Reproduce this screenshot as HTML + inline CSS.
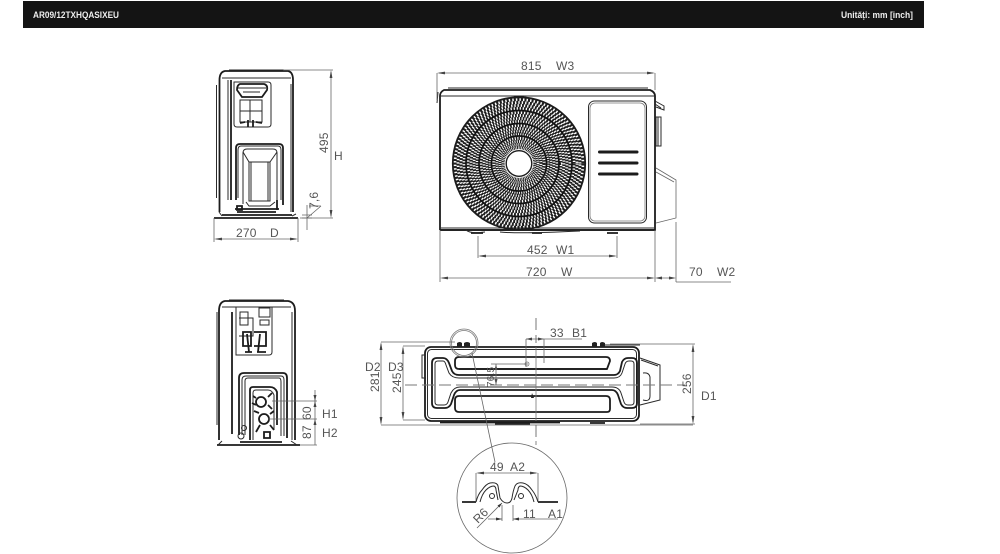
<!DOCTYPE html>
<html><head><meta charset="utf-8"><style>
html,body{margin:0;padding:0;background:#fff;width:1000px;height:554px;overflow:hidden}
svg{display:block}
text{font-family:"Liberation Sans",sans-serif;font-size:12px;fill:#555;letter-spacing:.2px}
.h{font-size:9px;font-weight:bold;fill:#eee;letter-spacing:0}
.d{fill:none;stroke:#666;stroke-width:.8}
.a{fill:none;stroke:#666;stroke-width:.8;marker-start:url(#m);marker-end:url(#m)}
.k{fill:none;stroke:#2a2a2a;stroke-width:1}
.t{fill:none;stroke:#1c1c1c;stroke-width:1.8}
.g{fill:none;stroke:#777;stroke-width:.8}
.c{fill:none;stroke:#777;stroke-width:1;stroke-dasharray:12 5}
.b{fill:none;stroke:#1e1e1e;stroke-width:3.3}
.r{fill:none;stroke:#111;stroke-width:1.7}
</style></head><body>
<svg width="1000" height="554" viewBox="0 0 1000 554" xmlns="http://www.w3.org/2000/svg">
<defs><marker id="m" viewBox="0 0 8 4" refX="6" refY="2" markerWidth="8" markerHeight="4" markerUnits="userSpaceOnUse" orient="auto-start-reverse"><path d="M8 2L0 0.6V3.4Z" fill="#444"/></marker></defs>

<rect x="23" y="1" width="901" height="27" fill="#141414"/>
<text class="h" x="33" y="18" textLength="86" lengthAdjust="spacingAndGlyphs">AR09/12TXHQASIXEU</text>
<text class="h" x="841" y="18" textLength="72" lengthAdjust="spacingAndGlyphs">Unități: mm [inch]</text>

<!-- Side view top -->
<g>
<path class="t" d="M219.500 212V80Q219.500 72 225 71H288Q293 72 293 80V212"/>
<path class="k" d="M222 78H291M229 70H284"/>
<path class="k" d="M216.500 85V198" stroke-width="1.200"/>
<path class="t" d="M231 80V200" stroke-width="2"/>
<path class="k" d="M228 80V200M228 78H234"/>
<path class="k" d="M234 82H268Q271 82 271 85V124Q271 127 268 127H237Q234 127 234 124Z"/>
<path class="t" d="M237 90Q237 85 240 84H264Q268 85 267 90L262 97H242Z" stroke-width="1.400"/>
<path class="k" d="M240 100H262V122H240ZM243 92H260M240 111H262M250 100V122M238 88H266"/>
<path class="t" d="M240 123L245 122M256 122L262 123M248 120V127M253 120V127" stroke-width="1.600"/>
<path class="t" d="M236 200V148Q236 144 240 144H279Q283 144 283 148V205" stroke-width="1.600"/>
<path class="k" d="M238 198V150Q238 146 241 146H278Q281 146 281 150V200"/>
<path class="k" d="M243 204V153Q243 149 247 149H273Q277 149 277 153V200"/>
<path class="k" d="M249 162H270V201H249ZM243 152L249 162M277 152L270 162M246 202L249 206H270L275 202"/>
<path class="k" d="M251 162V201M268 162V201"/>
<path class="t" d="M235 209H279M237 212H276" stroke-width="2"/>
<path class="t" d="M237 206H242V210H237ZM277 200V210" stroke-width="1.400"/>
<path class="k" d="M291 84V212" stroke-width="1.400"/>
<path class="t" d="M214 218H298" stroke-width="1.200"/>
<path class="t" d="M222 215H292" stroke-width="2.500"/>
<path class="k" d="M219 212L222 216M292 216L296 214"/>
</g>
<path class="d" d="M283 70H333M300 218H333M214 218V242M298 218V242"/>
<path class="a" d="M331 72V216"/>
<path class="a" d="M216 239H296"/>
<text transform="translate(328 153) rotate(-90)">495</text>
<text x="334" y="160">H</text>
<text x="236" y="237">270</text>
<text x="270" y="237">D</text>
<path class="d" d="M307 205V230M302 215H312M302 218H312M309 206H321M321 206L307 218"/>
<text transform="translate(318 209) rotate(-90)">7,6</text>

<!-- Front view -->
<g>
<path class="t" d="M440 230V96Q440 92 444 90H650Q655 92 655 96V230H440"/>
<path class="k" d="M448 88H648M440 96H655M441 228H654M438 92L437 103"/>
<path class="t" d="M440 230H655" stroke-width="2"/>
<rect x="588.500" y="101" width="58" height="122" rx="6" class="k" stroke-width="1.200"/>
<rect x="590" y="103" width="55" height="118" rx="5" class="g"/>
<path d="M599.500 152H637M599.500 163H637M599.500 174H637" stroke="#1c1c1c" stroke-width="3" stroke-linecap="round" fill="none"/>
<path class="t" d="M471 233H483M607 233H618M532 233H542" stroke-width="3"/>
<path class="k" d="M466 230Q470 234 485 232M500 232Q519 234 580 231"/>
<path class="k" d="M655 101L664 106V110L656 107M655 104L661 108"/>
<path class="k" d="M656 117H661V146H656ZM658 117V146" stroke-width="1.200"/>
<path class="d" d="M656 168L676 180V218L656 223M656 172L674 182"/>
<!-- fan -->
<g>
<circle cx="519" cy="163.500" r="66.200" class="t" stroke-width="1.700"/>
<circle cx="519" cy="163.500" r="64" class="b" pathLength="360" stroke-dasharray="1.9 1.3"/>
<circle cx="519" cy="163.500" r="61" class="b" pathLength="360" stroke-dasharray="1.9 1.3" stroke-dashoffset="1"/>
<circle cx="519" cy="163.500" r="58" class="b" pathLength="360" stroke-dasharray="1.9 1.3" stroke-dashoffset="2"/>
<circle cx="519" cy="163.500" r="55" class="b" pathLength="360" stroke-dasharray="1.9 1.3" stroke-dashoffset="3"/>
<circle cx="519" cy="163.500" r="53" class="r"/>
<circle cx="519" cy="163.500" r="51" class="b" pathLength="360" stroke-dasharray="2.1 1.5"/>
<circle cx="519" cy="163.500" r="48" class="b" pathLength="360" stroke-dasharray="2.1 1.5" stroke-dashoffset="1.2"/>
<circle cx="519" cy="163.500" r="45" class="b" pathLength="360" stroke-dasharray="2.1 1.5" stroke-dashoffset="2.4"/>
<circle cx="519" cy="163.500" r="42" class="b" pathLength="360" stroke-dasharray="2.1 1.5" stroke-dashoffset="3.6"/>
<circle cx="519" cy="163.500" r="40" class="r"/>
<circle cx="519" cy="163.500" r="38" class="b" pathLength="360" stroke-dasharray="2.6 1.9"/>
<circle cx="519" cy="163.500" r="35" class="b" pathLength="360" stroke-dasharray="2.6 1.9" stroke-dashoffset="1.5"/>
<circle cx="519" cy="163.500" r="32" class="b" pathLength="360" stroke-dasharray="2.6 1.9" stroke-dashoffset="3"/>
<circle cx="519" cy="163.500" r="29.500" class="b" pathLength="360" stroke-dasharray="2.6 1.9" stroke-dashoffset="4.5"/>
<circle cx="519" cy="163.500" r="27.500" class="r"/>
<circle cx="519" cy="163.500" r="25" class="b" pathLength="360" stroke-dasharray="3.5 2.5"/>
<circle cx="519" cy="163.500" r="22" class="b" pathLength="360" stroke-dasharray="3.5 2.5" stroke-dashoffset="2"/>
<circle cx="519" cy="163.500" r="19" class="b" pathLength="360" stroke-dasharray="3.5 2.5" stroke-dashoffset="4"/>
<circle cx="519" cy="163.500" r="16" class="b" pathLength="360" stroke-dasharray="3.5 2.5" stroke-dashoffset="6"/>
<circle cx="519" cy="163.500" r="12.800" fill="#fff" stroke="#1c1c1c" stroke-width="1.400"/>
<path d="M514 96.500H524" stroke="#1c1c1c" stroke-width="2"/>
</g>
</g>
<path class="d" d="M437 73V100M655 73V90M440 230V282M655 230V282M676 222V282M478 236V258M617 236V258M676 282H731"/>
<path class="a" d="M439 73H653"/>
<path class="a" d="M480 256H615"/>
<path class="a" d="M442 278H653"/>
<path class="d" d="M657 278H674"/>
<path d="M655 278l7-1.500v3zM676 278l-7-1.500v3z" fill="#444"/>
<text x="521" y="70">815</text><text x="556" y="70">W3</text>
<text x="527" y="254">452</text><text x="556" y="254">W1</text>
<text x="526" y="276">720</text><text x="561" y="276">W</text>
<text x="689" y="276">70</text><text x="717" y="276">W2</text>

<!-- Side view bottom -->
<g>
<path class="t" d="M219 440V311Q219 302 225 301H288Q295 302 295 311V440"/>
<path class="k" d="M222 307H291M229 300H284M292 312V440"/>
<path class="t" d="M232 312V434" stroke-width="2.400"/>
<path class="k" d="M217 312V425M236 307V355H269Q272 355 272 352V307"/>
<path class="k" d="M240 312H248V325H240ZM259 308H270V317H259ZM260 320H269V325H260ZM239 318H253V336H239"/>
<path class="t" d="M243 332H251V346H243ZM254 332H266V346H254M247 334L249 352M260 334L258 352M245 352H252M257 352H266" stroke-width="1.200"/>
<path class="t" d="M239 435V378Q239 373 244 373H283Q287 373 287 378V438" stroke-width="1.400"/>
<path class="k" d="M242 435V380Q242 376 246 376H281Q284 376 284 380V436M245 435V381Q245 378 248 378H279Q281 378 281 382V436"/>
<path class="t" d="M250 440V390Q250 387 253 387H270Q275 387 277 392V425" stroke-width="2"/>
<path class="k" d="M253 440V393Q253 390 256 390H268Q272 390 274 395V430"/>
<circle cx="261" cy="402" r="5" class="t"/>
<circle cx="264" cy="419" r="5" class="t"/>
<path class="t" d="M256 398L253 396M268 397L272 393M256 405L252 403M268 405L272 409M259 413L254 411M270 414L274 411M260 425L256 432M270 425L274 430M264 432H270V438H264Z" stroke-width="1.500"/>
<circle cx="244" cy="428" r="2.500" class="k"/><circle cx="241" cy="436" r="3" class="k"/>
<path class="t" d="M217 445H300" stroke-width="1.200"/>
<path class="t" d="M240 442H282" stroke-width="2.400"/>
<path class="k" d="M222 441L218 445M291 441L297 445"/>
</g>
<path class="d" d="M272 401H317M268 419H317M300 445H317"/>
<path class="d" d="M315 390V445"/>
<path d="M315 401l-1.500-6h3zM315 419l-1.500 6h3zM315 401l-1.500 6h3z" fill="#444"/>
<text transform="translate(311 420) rotate(-90)">60</text>
<text transform="translate(311 439) rotate(-90)">87</text>
<text x="322" y="418">H1</text><text x="322" y="437">H2</text>

<!-- Top view -->
<g>
<rect x="425" y="347" width="214" height="74" rx="6" class="t" stroke-width="1.500"/>
<rect x="427.500" y="349.500" width="209" height="69" rx="4" class="k" stroke-width=".8"/>
<path class="t" stroke-width="1.300" d="M432 363Q432 358 437 358H443Q447 358 449 363L452 371Q454 375 459 375H614Q618 375 620 371L622 362Q624 358 628 358H632Q637 358 637 363V403Q637 408 632 408H627Q623 408 621 404L618 395Q616 390 612 390H460Q456 390 454 395L451 404Q449 408 445 408H437Q432 408 432 403Z"/>
<path class="k" stroke-width=".9" d="M435 364Q435 361 438 361H443Q445 361 446 365L449 373Q452 378 459 378H614Q620 378 622 373L625 364Q626 361 629 361H631Q634 361 634 364V402Q634 405 631 405H628Q625 405 624 402L621 393Q619 387 612 387H460Q454 387 451 393L448 402Q447 405 444 405H438Q435 405 435 402Z"/>
<path class="t" stroke-width="1.300" d="M455 361Q455 357 459 357H606Q610 357 610 361L607 369H459Q455 369 455 365Z"/>
<path class="t" stroke-width="1.300" d="M455 400Q455 396 459 396H606Q610 396 610 400V409Q610 412 607 412H459Q455 412 455 408Z"/>
<path class="t" d="M459 369H607" stroke-width="2"/>
<path class="k" d="M640 358L660 365V400L640 405M641 360L658 366M643 373Q649 372 650 377V396Q650 402 643 400"/>
<path class="k" d="M425 355H422V378H426"/>
<path d="M457 347V343Q460 341 462 343V347ZM464 347V343Q467 341 470 343V347ZM592 347V343Q595 341 597 343V347ZM600 347V343Q602 341 605 343V347Z" fill="#222"/>
<path class="t" d="M440 422.500H560" stroke-width="1.500"/>
<path class="t" d="M495 424H530M590 423H605" stroke-width="2"/>
<path class="k" d="M605 345H640"/>
<circle cx="464" cy="343" r="14" class="g"/><circle cx="464" cy="343" r="12.500" class="g"/>
</g>
<path class="c" d="M405 385H685"/>
<path class="c" d="M536 318V343M536 425V440"/>
<path class="g" d="M536 347V421"/>
<path class="d" d="M381 342H455M381 425H693M403 346H425M403 420H425M610 344H695M640 424H695"/>
<path class="a" d="M381 344V423"/>
<path class="a" d="M403 348V418"/>
<path class="a" d="M693 346V422"/>
<text x="365" y="371">D2</text><text x="388" y="371">D3</text>
<text transform="translate(379 392) rotate(-90)">281</text>
<text transform="translate(401 393) rotate(-90)">245</text>
<text transform="translate(691 394) rotate(-90)">256</text>
<text x="701" y="400">D1</text>
<path class="d" d="M526 339V367M544 339V363M526 339H582M491 364H528"/>
<path d="M526 339l6-1.500v3zM544 339l-6-1.500v3zM496 364l-1.500 6h3zM496 385l-1.500-6h3z" fill="#444"/>
<path class="d" d="M496 364V385"/>
<circle cx="527" cy="364" r="2" class="g"/>
<path d="M532 393l2 5h-3z" fill="#222"/>
<text x="550" y="337">33</text><text x="572" y="337">B1</text>
<text transform="translate(494 387) rotate(-90)" style="font-size:10px">76.5</text>
<path class="d" d="M472 353L495 462"/>

<!-- Detail circle -->
<circle cx="512" cy="498" r="55" class="d"/>
<path class="t" stroke-width="1.200" d="M462 502H476M538 502H558"/>
<path class="d" d="M476 473V502M538 473V502"/>
<path class="a" d="M478 473H536"/>
<path class="k" stroke-width="1.200" d="M476 502Q478 494 482 490Q486 484 490 483Q497 482 498 486Q499 492 500 498Q503 503 507 503Q511 503 512 498Q513 491 515 486Q517 482 523 483Q528 484 532 490Q536 495 538 502"/>
<path class="k" d="M480 502Q482 494 486 490Q490 486 494 486Q496 487 496 490L498 500M534 502Q532 494 528 490Q524 486 520 486Q518 487 518 490L514 500"/>
<circle cx="492" cy="496" r="2.500" class="k" stroke-width=".8"/>
<circle cx="521" cy="496" r="2.500" class="k" stroke-width=".8"/>
<path class="d" d="M477 528L502 503M488 519H502M502 505V521M513 505V521M513 519H558"/>
<path d="M502 519l-6-1.500v3zM513 519l6-1.500v3zM502 503l-4.500 2.500 2 2z" fill="#333"/>
<text x="490" y="471">49</text><text x="510" y="471">A2</text>
<text x="523" y="518">11</text><text x="548" y="518">A1</text>
<text transform="translate(478 524) rotate(-45)">R6</text>
<path class="d" d="M536 441V445"/>
</svg>
</body></html>
